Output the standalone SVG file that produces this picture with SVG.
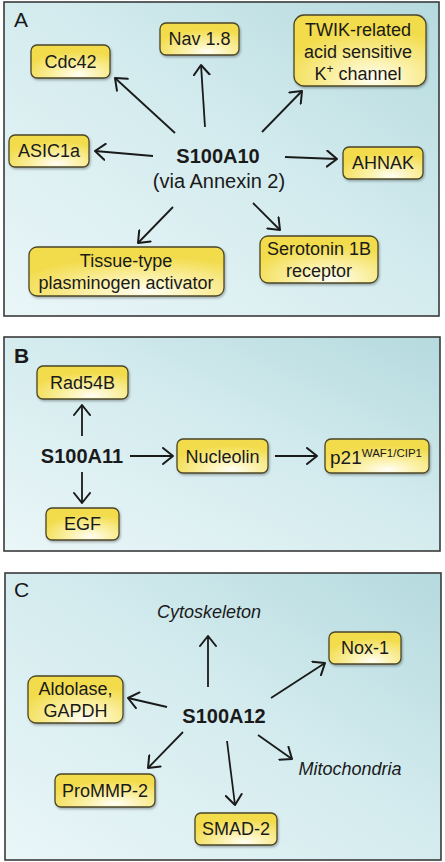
<svg xmlns="http://www.w3.org/2000/svg" width="445" height="862" viewBox="0 0 445 862">
<defs>
<linearGradient id="bg" x1="0" y1="1" x2="1" y2="0">
<stop offset="0" stop-color="#eaf6f8"/>
<stop offset="0.55" stop-color="#d3ebee"/>
<stop offset="1" stop-color="#b5dade"/>
</linearGradient>
<radialGradient id="ny" cx="0.6" cy="0.9" r="0.7">
<stop offset="0" stop-color="#fffef5"/>
<stop offset="0.4" stop-color="#fbf1aa"/>
<stop offset="1" stop-color="#f2dc4c"/>
</radialGradient>
<filter id="sh" x="-10%" y="-10%" width="130%" height="140%">
<feDropShadow dx="1" dy="1.5" stdDeviation="1" flood-color="#000" flood-opacity="0.3"/>
</filter>
<marker id="ah" viewBox="0 0 12 18" refX="11" refY="9" markerWidth="12" markerHeight="18" markerUnits="userSpaceOnUse" orient="auto">
<path d="M1,1 L11,9 L1,17" fill="none" stroke="#1a1a1a" stroke-width="2" stroke-linecap="round" stroke-linejoin="round"/>
</marker>
</defs>
<style>
.panel{fill:url(#bg);stroke:#3a3a3a;stroke-width:1.6;}
.node{fill:url(#ny);stroke:#4a4628;stroke-width:1.3;filter:url(#sh);}
text{font-family:"Liberation Sans",Arial,sans-serif;fill:#1a1a1a;}
.t{font-size:18px;text-anchor:middle;}
.hub{font-size:20px;font-weight:bold;text-anchor:middle;}
.sub{font-size:20px;text-anchor:middle;}
.lbl{font-size:21px;}
.it{font-size:18px;font-style:italic;text-anchor:middle;}
.conn line{stroke:#1a1a1a;stroke-width:1.8;marker-end:url(#ah);}
</style>

<!-- Panel A -->
<g id="panelA">
<rect class="panel" x="4" y="2" width="435" height="314"/>
<text class="lbl" x="14" y="27">A</text>
</g>
<g id="S100A10">
<text class="hub" x="218" y="163">S100A10</text>
<text class="sub" x="219" y="188">(via Annexin 2)</text>
</g>
<g id="Cdc42"><rect class="node" x="31" y="45" width="79" height="33" rx="6"/><text class="t" x="70.5" y="68">Cdc42</text></g>
<g id="Nav18"><rect class="node" x="160" y="23" width="79" height="32" rx="6"/><text class="t" x="199.5" y="45">Nav 1.8</text></g>
<g id="TWIK"><rect class="node" x="294" y="15" width="132" height="71" rx="10"/>
<text class="t" x="358" y="36">TWIK-related</text>
<text class="t" x="358" y="58">acid sensitive</text>
<text class="t" x="358" y="80">K<tspan font-size="12" dy="-7">+</tspan><tspan dy="7"> channel</tspan></text></g>
<g id="ASIC1a"><rect class="node" x="9" y="135" width="80" height="32" rx="6"/><text class="t" x="49" y="157">ASIC1a</text></g>
<g id="AHNAK"><rect class="node" x="343" y="147" width="80" height="32" rx="6"/><text class="t" x="383" y="169">AHNAK</text></g>
<g id="tPA"><rect class="node" x="29" y="247" width="195" height="49" rx="8"/>
<text class="t" x="126" y="267">Tissue-type</text>
<text class="t" x="126" y="289">plasminogen activator</text></g>
<g id="Serotonin"><rect class="node" x="260" y="236" width="118" height="47" rx="8"/>
<text class="t" x="319" y="255">Serotonin 1B</text>
<text class="t" x="319" y="277">receptor</text></g>

<!-- Panel B -->
<g id="panelB">
<rect class="panel" x="4" y="337" width="436" height="214"/>
<text class="lbl" x="14" y="363" font-weight="bold">B</text>
</g>
<g id="S100A11"><text class="hub" x="82" y="463">S100A11</text></g>
<g id="Rad54B"><rect class="node" x="37" y="366" width="91" height="33" rx="6"/><text class="t" x="82.5" y="389">Rad54B</text></g>
<g id="Nucleolin"><rect class="node" x="177" y="439" width="91" height="34" rx="6"/><text class="t" x="222.5" y="463">Nucleolin</text></g>
<g id="p21"><rect class="node" x="325" y="439" width="104" height="34" rx="6"/><text x="330" y="464" font-size="19">p21<tspan font-size="11.5" dy="-7">WAF1/CIP1</tspan></text></g>
<g id="EGF"><rect class="node" x="46" y="508" width="73" height="32" rx="6"/><text class="t" x="82.5" y="530">EGF</text></g>

<!-- Panel C -->
<g id="panelC">
<rect class="panel" x="5" y="573" width="436" height="287"/>
<text class="lbl" x="14" y="597">C</text>
</g>
<g id="S100A12"><text class="hub" x="224" y="723">S100A12</text></g>
<g id="Cytoskeleton"><text class="it" x="209" y="618">Cytoskeleton</text></g>
<g id="Mitochondria"><text class="it" x="350" y="775">Mitochondria</text></g>
<g id="Nox1"><rect class="node" x="329" y="632" width="72" height="32" rx="6"/><text class="t" x="365" y="654">Nox-1</text></g>
<g id="Aldolase"><rect class="node" x="28" y="676" width="95" height="47" rx="8"/>
<text class="t" x="75.5" y="695">Aldolase,</text>
<text class="t" x="75.5" y="717">GAPDH</text></g>
<g id="ProMMP2"><rect class="node" x="55" y="774" width="100" height="33" rx="6"/><text class="t" x="105" y="797">ProMMP-2</text></g>
<g id="SMAD2"><rect class="node" x="195" y="813" width="82" height="32" rx="6"/><text class="t" x="236" y="835">SMAD-2</text></g>

<g id="connectors" class="conn">
<line x1="175" y1="133" x2="115" y2="78"/>
<line x1="205" y1="127" x2="201" y2="65"/>
<line x1="262" y1="132" x2="302" y2="91"/>
<line x1="153" y1="156" x2="95" y2="151"/>
<line x1="285" y1="157" x2="337" y2="159"/>
<line x1="173" y1="207" x2="138" y2="243"/>
<line x1="253" y1="203" x2="280" y2="230"/>

<line x1="82" y1="436" x2="82" y2="405"/>
<line x1="82" y1="472" x2="82" y2="503"/>
<line x1="130" y1="456" x2="173" y2="456"/>
<line x1="275" y1="456" x2="317" y2="456"/>

<line x1="208" y1="687" x2="208" y2="636"/>
<line x1="271" y1="698" x2="325" y2="663"/>
<line x1="167" y1="707" x2="128" y2="698"/>
<line x1="183" y1="732" x2="148" y2="768"/>
<line x1="227" y1="741" x2="235" y2="805"/>
<line x1="258" y1="735" x2="292" y2="759"/>
</g>
</svg>
